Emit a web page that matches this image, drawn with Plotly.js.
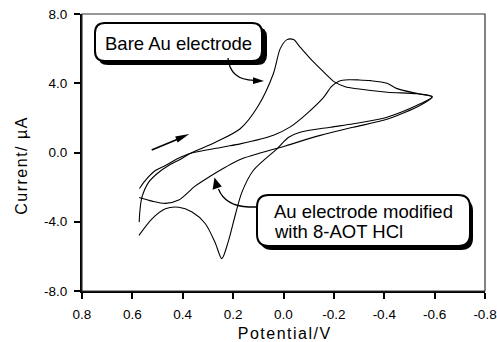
<!DOCTYPE html>
<html>
<head>
<meta charset="utf-8">
<script src="https://cdn.plot.ly/plotly-3.0.1.min.js"></script>
<style>
  html, body { margin: 0; padding: 0; background: #fff; }
  #cv { width: 497px; height: 342px; }
</style>
</head>
<body>
<div id="cv"></div>
<script>
// Cyclic voltammograms: potential (V) against current (µA)

// Bare Au electrode: sweep from +0.57 V to -0.59 V and back
const bareV = [0.573, 0.570, 0.562, 0.535, 0.495, 0.456, 0.411, 0.371, 0.272, 0.172,
               0.100, 0.040, 0.013, -0.014, -0.040, -0.066, -0.119, -0.173, -0.199, -0.245,
               -0.293, -0.412, -0.532, -0.590,
               -0.543, -0.411, -0.277, -0.186, -0.066, -0.019, 0.026, 0.120, 0.165, 0.192,
               0.220, 0.245, 0.272, 0.311, 0.363, 0.416, 0.469, 0.522, 0.574];
const bareI = [-4.02, -3.35, -2.58, -1.71, -1.14, -0.75, -0.40, -0.06, 0.58, 1.37,
               2.70, 4.56, 6.00, 6.52, 6.52, 6.09, 5.23, 4.46, 4.11, 3.80,
               3.68, 3.48, 3.39, 3.21,
               2.81, 2.04, 1.66, 1.46, 1.17, 0.87, 0.21, -1.04, -2.29, -3.64,
               -5.18, -6.13, -5.18, -4.10, -3.44, -3.16, -3.25, -3.83, -4.79];

// Au electrode modified with 8-AOT HCl
const modV = [0.572, 0.549, 0.509, 0.469, 0.419, 0.371, 0.239, 0.172, 0.040, -0.027,
              -0.093, -0.160, -0.190, -0.220, -0.260, -0.300, -0.345, -0.411, -0.451, -0.536, -0.591,
              -0.543, -0.411, -0.277, -0.146, -0.007, 0.172, 0.231, 0.291, 0.351, 0.416,
              0.469, 0.522, 0.573];
const modI = [-2.08, -1.62, -1.04, -0.75, -0.35, -0.06, 0.32, 0.50, 1.00, 1.48,
              2.25, 3.20, 3.80, 4.12, 4.20, 4.19, 4.15, 4.00, 3.69, 3.39, 3.22,
              2.73, 1.92, 1.46, 0.99, 0.38, -0.40, -0.85, -1.37, -1.94, -2.75,
              -2.94, -2.81, -2.60];

// Axis ticks
const xTickVals = [0.8, 0.6, 0.4, 0.2, 0.0, -0.2, -0.4, -0.6, -0.8];
const xTickText = ['0.8', '0.6', '0.4', '0.2', '0.0', '-0.2', '-0.4', '-0.6', '-0.8'];
const yTickVals = [-8, -4, 0, 4, 8];
const yTickText = ['-8.0', '-4.0', '0.0', '4.0', '8.0'];

// Labels
const bareLabel = 'Bare Au electrode';
const modLabel1 = 'Au electrode modified';
const modLabel2 = 'with 8-AOT HCl';
const xTitle = 'Potential/V';
const yTitle = 'Current/ µA';

// Plot-area geometry (px) used to place callout boxes and arrows
const L = 82, T = 14, W = 403, H = 277;
function pp(x, y) { return ((x - L) / W).toFixed(5) + ',' + ((T + H - y) / H).toFixed(5); }
function roundRect(x0, y0, x1, y1, r) {
  return 'M' + pp(x0 + r, y0) + ' L' + pp(x1 - r, y0) + ' Q' + pp(x1, y0) + ' ' + pp(x1, y0 + r) +
         ' L' + pp(x1, y1 - r) + ' Q' + pp(x1, y1) + ' ' + pp(x1 - r, y1) +
         ' L' + pp(x0 + r, y1) + ' Q' + pp(x0, y1) + ' ' + pp(x0, y1 - r) +
         ' L' + pp(x0, y0 + r) + ' Q' + pp(x0, y0) + ' ' + pp(x0 + r, y0) + ' Z';
}
function tri(a, b, c) { return 'M' + pp(a[0], a[1]) + ' L' + pp(b[0], b[1]) + ' L' + pp(c[0], c[1]) + ' Z'; }
function pathShape(path, opts) {
  return Object.assign({ type: 'path', xref: 'paper', yref: 'paper', path: path, layer: 'above',
                         line: { color: '#000', width: 1.3 } }, opts || {});
}

const curveStyle = { color: '#000', width: 1.1, shape: 'spline', smoothing: 0.8 };
const traces = [
  { x: bareV, y: bareI, mode: 'lines', line: curveStyle, name: bareLabel, hoverinfo: 'skip' },
  { x: modV, y: modI, mode: 'lines', line: curveStyle, name: modLabel1, hoverinfo: 'skip' }
];

const font = 'Liberation Sans, Arial, Helvetica, sans-serif';

const shapes = [
  // thin frame on top and right
  { type: 'rect', xref: 'paper', yref: 'paper', x0: 0, x1: 1, y0: 0, y1: 1,
    line: { color: '#333', width: 1.2 }, layer: 'above' },
  // callout box: bare electrode
  pathShape(roundRect(98, 27, 267, 65, 10), { fillcolor: '#000', line: { width: 0 } }),
  pathShape(roundRect(95, 23, 262, 61, 10), { fillcolor: '#fff', line: { color: '#000', width: 2 } }),
  pathShape('M' + pp(228, 58) + ' Q' + pp(230, 80) + ' ' + pp(254, 80.3)),
  pathShape(tri([264, 81], [253, 77.2], [253, 84]), { fillcolor: '#000', line: { width: 0 } }),
  // callout box: modified electrode
  pathShape(roundRect(260, 199, 473, 250, 12), { fillcolor: '#000', line: { width: 0 } }),
  pathShape(roundRect(257, 195, 470, 246, 12), { fillcolor: '#fff', line: { color: '#000', width: 2 } }),
  pathShape('M' + pp(257, 207) + ' L' + pp(249, 207) + ' Q' + pp(225, 206) + ' ' + pp(218.5, 189)),
  pathShape(tri([214.5, 177.5], [212.6, 189.8], [221.8, 186.6]), { fillcolor: '#000', line: { width: 0 } }),
  // sweep-direction arrow
  pathShape('M' + pp(151.7, 150) + ' L' + pp(177, 139.4), { line: { color: '#000', width: 1.6 } }),
  pathShape(tri([189.3, 134], [175.2, 136.4], [177.6, 142.4]), { fillcolor: '#000', line: { width: 0 } })
];

function px2paperX(x) { return (x - L) / W; }
function px2paperY(y) { return (T + H - y) / H; }

const annotations = [
  { text: bareLabel, xref: 'paper', yref: 'paper', x: px2paperX(178.5), y: px2paperY(43),
    xanchor: 'center', yanchor: 'middle', showarrow: false,
    font: { family: font, size: 18.5, color: '#000' } },
  { text: modLabel1, xref: 'paper', yref: 'paper', x: px2paperX(272), y: px2paperY(212),
    xanchor: 'left', yanchor: 'middle', showarrow: false,
    font: { family: font, size: 18.5, color: '#000' } },
  { text: modLabel2, xref: 'paper', yref: 'paper', x: px2paperX(272), y: px2paperY(231),
    xanchor: 'left', yanchor: 'middle', showarrow: false,
    font: { family: font, size: 18.5, color: '#000' } },
  { text: xTitle, xref: 'paper', yref: 'paper', x: px2paperX(285), y: px2paperY(333),
    xanchor: 'center', yanchor: 'middle', showarrow: false,
    font: { family: font, size: 16, color: '#000' } },
  { text: yTitle, xref: 'paper', yref: 'paper', x: px2paperX(20.5), y: px2paperY(166),
    xanchor: 'center', yanchor: 'middle', showarrow: false, textangle: -90,
    font: { family: font, size: 16, color: '#000' } }
];

const axisCommon = {
  showgrid: false, zeroline: false, showline: true, linecolor: '#000', linewidth: 2,
  ticks: 'outside', ticklen: 6, tickwidth: 2, tickcolor: '#000', mirror: false,
  tickfont: { family: font, size: 13.5, color: '#000' }, tickmode: 'array'
};

const layout = {
  width: 497, height: 342,
  margin: { l: L, r: 497 - L - W, t: T, b: 342 - T - H },
  paper_bgcolor: '#fff', plot_bgcolor: '#fff',
  showlegend: false,
  xaxis: Object.assign({}, axisCommon, { range: [0.8, -0.8], tickvals: xTickVals, ticktext: xTickText,
                                          ticklabelstandoff: 4 }),
  yaxis: Object.assign({}, axisCommon, { range: [-8, 8], tickvals: yTickVals, ticktext: yTickText,
                                          ticklabelstandoff: 4 }),
  shapes: shapes,
  annotations: annotations
};

Plotly.newPlot('cv', traces, layout, { staticPlot: true, displayModeBar: false }).then(function () {
  // axis titles are letter-spaced
  document.querySelectorAll('.annotation-text').forEach(function (t) {
    if (t.textContent === xTitle || t.textContent === yTitle) {
      t.style.letterSpacing = '1.5px';
    }
  });
});
</script>
</body>
</html>
